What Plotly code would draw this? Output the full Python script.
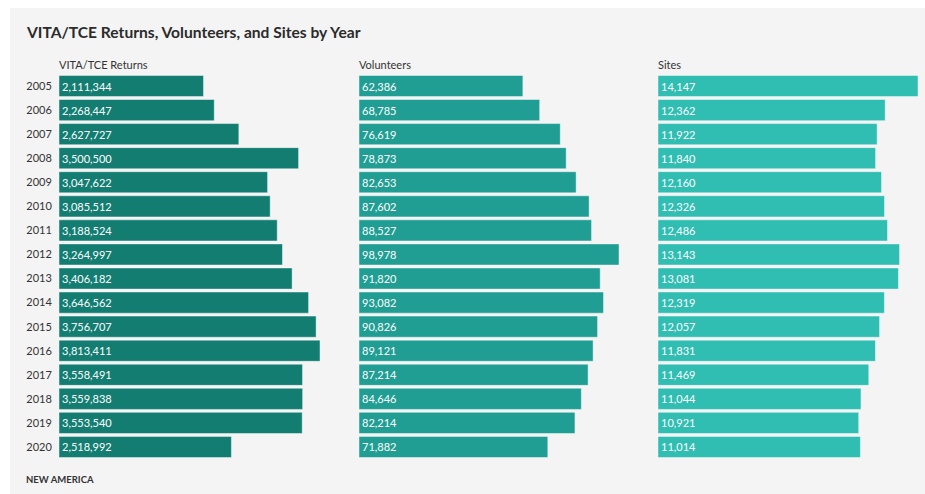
import plotly.graph_objects as go

years = ["2005", "2006", "2007", "2008", "2009", "2010", "2011", "2012",
         "2013", "2014", "2015", "2016", "2017", "2018", "2019", "2020"]
returns = [2111344, 2268447, 2627727, 3500500, 3047622, 3085512, 3188524, 3264997,
           3406182, 3646562, 3756707, 3813411, 3558491, 3559838, 3553540, 2518992]
volunteers = [62386, 68785, 76619, 78873, 82653, 87602, 88527, 98978,
              91820, 93082, 90826, 89121, 87214, 84646, 82214, 71882]
sites = [14147, 12362, 11922, 11840, 12160, 12326, 12486, 13143,
         13081, 12319, 12057, 11831, 11469, 11044, 10921, 11014]

series = [("VITA/TCE Returns", returns, "#137d72"),
          ("Volunteers", volunteers, "#219e93"),
          ("Sites", sites, "#30bdb2")]

W, H = 925, 494
FONT = "Lato"
panels_px = [(59, 320), (359, 619), (658, 918)]
y_top_px, y_bot_px = 74, 459
ydom = [1 - y_bot_px / H, 1 - y_top_px / H]

fig = go.Figure()
idx = list(range(len(years)))
for i, (name, vals, color) in enumerate(series):
    xa = "x" if i == 0 else f"x{i+1}"
    fig.add_trace(go.Bar(
        x=vals, y=idx, orientation="h", xaxis=xa, yaxis="y",
        marker=dict(color=color, line=dict(color="rgba(255,255,255,0.45)", width=1)),
        width=0.88,
        text=[f"{v:,}" for v in vals], textposition="inside",
        insidetextanchor="start", textangle=0,
        textfont=dict(color="white", size=11, family=FONT),
        constraintext="none", hoverinfo="skip", showlegend=False,
    ))
    x0, x1 = panels_px[i]
    ax = dict(domain=[x0 / W, x1 / W], range=[0, max(vals)], visible=False,
              showgrid=False, zeroline=False, fixedrange=True)
    if i > 0:
        ax["anchor"] = "y"
    fig.layout[f"xaxis{'' if i == 0 else i+1}"] = ax
    fig.add_annotation(x=x0 / W, y=1 - 64 / H, xref="paper", yref="paper",
                       text=name, showarrow=False, xanchor="left", yanchor="middle",
                       xshift=-2,
                       font=dict(size=11, color="#333333", family=FONT))

fig.update_layout(
    width=W, height=H, margin=dict(l=0, r=0, t=0, b=0),
    paper_bgcolor="white", plot_bgcolor="rgba(0,0,0,0)",
    yaxis=dict(domain=ydom, range=[15.5, -0.5], tickvals=idx, ticktext=years,
               ticks="outside", ticklen=4, tickcolor="rgba(0,0,0,0)",
               tickfont=dict(size=11, color="#333333", family=FONT),
               showgrid=False, zeroline=False, showline=False, fixedrange=True),
    shapes=[dict(type="rect", xref="paper", yref="paper",
                 x0=10 / W, x1=1, y0=0, y1=1 - 8 / H,
                 fillcolor="#f4f4f4", line=dict(width=0), layer="below")],
    font=dict(family=FONT),
)
fig.add_annotation(x=26 / W, y=1 - 32 / H, xref="paper", yref="paper",
                   text="<b>VITA/TCE Returns, Volunteers, and Sites by Year</b>",
                   showarrow=False, xanchor="left", yanchor="middle", xshift=-2,
                   font=dict(size=15.6, color="#2b2b2b", family=FONT))
fig.add_annotation(x=26 / W, y=1 - 479 / H, xref="paper", yref="paper",
                   text="<b>NEW AMERICA</b>", showarrow=False,
                   xanchor="left", yanchor="middle", xshift=-2,
                   font=dict(size=9.5, color="#333333", family=FONT))

fig.write_html("out.html")
